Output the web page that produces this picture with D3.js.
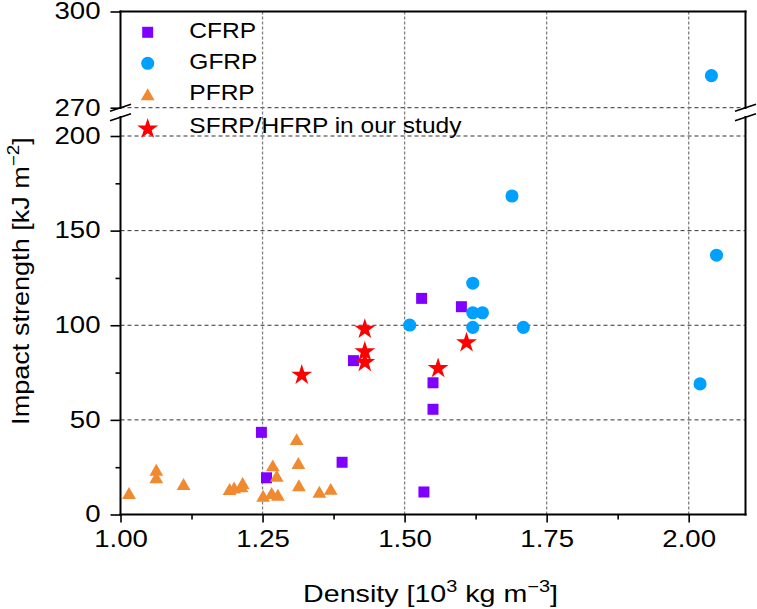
<!DOCTYPE html>
<html><head><meta charset="utf-8">
<script src="https://cdn.jsdelivr.net/npm/d3@7"></script>
<style>body{margin:0;background:#fff} svg{display:block} text{font-family:"Liberation Sans",Arial,Helvetica,sans-serif;fill:#000}</style>
</head><body>
<svg id="c" width="757" height="609"></svg>
<script>
// ---- data (density [10^3 kg m^-3], impact strength [kJ m^-2]) ----
const cfrp = [[1.248,43.4],[1.257,19.4],[1.41,81.3],[1.39,27.6],[1.534,11.9],[1.53,114.2],[1.55,69.6],[1.55,55.6],[1.60,109.8]];
const gfrp = [[1.509,100.1],[1.62,122.2],[1.62,106.6],[1.637,106.6],[1.62,98.9],[1.709,98.9],[1.689,168.3],[2.049,137.0],[2.02,69.0],[2.04,280]];
const pfrp = [[1.015,10.3],[1.063,22.6],[1.063,18.6],[1.111,15.1],[1.192,12.4],[1.20,13.2],[1.215,15.6],[1.213,13.8],[1.251,8.9],[1.268,24.9],[1.275,19.4],[1.266,10.3],[1.277,9.4],[1.31,38.8],[1.313,26.2],[1.314,14.4],[1.35,11.0],[1.37,12.5]];
const sfrp = [[1.319,73.7],[1.43,97.9],[1.43,86.0],[1.43,80.4],[1.609,90.8],[1.559,77.2]];
const seriesNames = ["CFRP","GFRP","PFRP","SFRP/HFRP in our study"];
const xTicks = [1.00,1.25,1.50,1.75,2.00];
const xMinor = [1.125,1.375,1.625,1.875];
const yTicks = [0,50,100,150,200,270,300];
const yMinor = [25,75,125,175];
const yGrid = [50,100,150,200,270];
const xGrid = [1.25,1.50,1.75,2.00];

const svg = d3.select("#c");
const L = 120.5, R = 745.5, T = 11.5, B = 514.5;
const x = d3.scaleLinear().domain([1.0, 2.1]).range([L, R]);
const y = d3.scaleLinear().domain([0, 200, 270, 300]).range([B, 136, 107.7, T]);

const colors = ["#7f00ff", "#00a0ff", "#f0892f", "#ff0000"];
const shapes = [d3.symbol().type(d3.symbolSquare).size(121),
                d3.symbol().type(d3.symbolCircle).size(135),
                d3.symbol().type(d3.symbolTriangle).size(82),
                d3.symbol().type(d3.symbolStar).size(135)];
const datasets = [cfrp, gfrp, pfrp, sfrp];

// grid
svg.append("g").selectAll("line").data(yGrid).join("line")
  .attr("x1", L).attr("x2", R).attr("y1", d => y(d)).attr("y2", d => y(d))
  .attr("stroke", "#333").attr("stroke-width", 1).attr("stroke-dasharray", "4,3");
svg.append("g").selectAll("line").data(xGrid).join("line")
  .attr("x1", d => x(d)).attr("x2", d => x(d)).attr("y1", T).attr("y2", B)
  .attr("stroke", "#808080").attr("stroke-width", 1.3).attr("stroke-dasharray", "3,2");

// axes
function stretchTicks(g, s) {
  g.selectAll(".tick text").each(function() {
    const t = d3.select(this);
    const tx = +t.attr("x") || 0, ty = +t.attr("y") || 0;
    t.attr("x", 0).attr("y", 0).attr("transform", `translate(${tx},${ty}) scale(${s},1)`);
  });
}
const yAx = svg.append("g").attr("transform", `translate(${L},0)`)
  .call(d3.axisLeft(y).tickValues(yTicks).tickSize(10).tickPadding(10).tickFormat(d3.format("d")));
const yAxMin = svg.append("g").attr("transform", `translate(${L},0)`)
  .call(d3.axisLeft(y).tickValues(yMinor).tickSize(5).tickFormat(""));
const xAx = svg.append("g").attr("transform", `translate(0,${B})`)
  .call(d3.axisBottom(x).tickValues(xTicks).tickSize(8).tickPadding(8).tickFormat(d3.format(".2f")));
const xAxMin = svg.append("g").attr("transform", `translate(0,${B})`)
  .call(d3.axisBottom(x).tickValues(xMinor).tickSize(5).tickFormat(""));
[yAx, yAxMin, xAx, xAxMin].forEach(g => {
  g.select(".domain").remove();
  g.selectAll(".tick line").attr("stroke", "#000").attr("stroke-width", 1.6);
  g.selectAll(".tick text").attr("font-size", 23).attr("font-family", null);
});
stretchTicks(yAx, 1.2);
stretchTicks(xAx, 1.2);

// frame with break
const frame = svg.append("g").attr("stroke", "#000").attr("stroke-width", 2).attr("fill", "none");
frame.append("line").attr("x1", L).attr("x2", L).attr("y1", T - 1).attr("y2", 109);
frame.append("line").attr("x1", L).attr("x2", L).attr("y1", 116).attr("y2", B + 1);
frame.append("line").attr("x1", R).attr("x2", R).attr("y1", T - 1).attr("y2", 109);
frame.append("line").attr("x1", R).attr("x2", R).attr("y1", 116).attr("y2", B + 1);
frame.append("line").attr("x1", L - 1).attr("x2", R + 1).attr("y1", T).attr("y2", T);
frame.append("line").attr("x1", L - 1).attr("x2", R + 1).attr("y1", B).attr("y2", B);
[L, R].forEach(cx => {
  [107.7, 117.3].forEach(cy => {
    frame.append("line").attr("stroke-width", 1.6)
      .attr("x1", cx - 10.5).attr("y1", cy + 3.5).attr("x2", cx + 10.5).attr("y2", cy - 3.5);
  });
});

// points
datasets.forEach((data, i) => {
  svg.append("g").selectAll("path").data(data).join("path")
    .attr("d", shapes[i])
    .attr("transform", d => `translate(${x(d[0])},${y(d[1])})`)
    .attr("fill", colors[i]);
});

// legend
const legY = [32.3, 63.3, 96.3, 129];
const legTextY = [37.7, 68.5, 100, 133.3];
const leg = svg.append("g");
seriesNames.forEach((name, i) => {
  leg.append("path").attr("d", shapes[i]).attr("fill", colors[i])
    .attr("transform", `translate(147.7,${legY[i]})`);
  leg.append("text").attr("font-size", 22.3)
    .attr("transform", `translate(189.3,${legTextY[i]}) scale(1.1,1)`).text(name);
});

// titles
function fitWidth(t, target, base) {
  const w = t.node().getComputedTextLength();
  t.attr("transform", base + ` scale(${target / w},1)`);
}
const xt = svg.append("text").attr("font-size", 23).attr("text-anchor", "middle");
xt.append("tspan").text("Density [10");
xt.append("tspan").attr("font-size", 16).attr("dy", -10).text("3");
xt.append("tspan").attr("dy", 10).text(" kg m");
xt.append("tspan").attr("font-size", 16).attr("dy", -10).text("\u22123");
xt.append("tspan").attr("dy", 10).text("]");
fitWidth(xt, 255, "translate(430.5,601.5)");

const yt = svg.append("text").attr("font-size", 23).attr("text-anchor", "middle");
yt.append("tspan").text("Impact strength [kJ m");
yt.append("tspan").attr("font-size", 16).attr("dy", -10).text("\u22122");
yt.append("tspan").attr("dy", 10).text("]");
fitWidth(yt, 288, "translate(28.5,281) rotate(-90)");
</script>
</body></html>
